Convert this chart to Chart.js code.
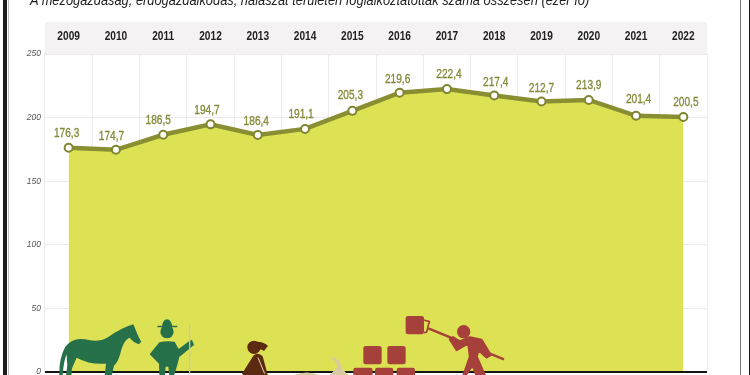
<!DOCTYPE html>
<html>
<head>
<meta charset="utf-8">
<script src="https://cdn.jsdelivr.net/npm/chart.js@4"></script>
<style>
  html, body { margin: 0; padding: 0; background: #fff; overflow: hidden; }
  #wrap { position: relative; width: 750px; height: 375px; overflow: hidden; }
  #myChart { position: absolute; left: 0; top: 0; }
  #title { position: absolute; left: 30px; top: -8px; white-space: nowrap; color: #222;
           font: italic 14.6px "Liberation Sans", Arial, sans-serif;
           transform: scaleX(.88); transform-origin: 0 0; }
  .frame { position: absolute; top: 0; height: 375px; }
  #icons { position: absolute; left: 0; top: 0; }
</style>
</head>
<body>
<div id="wrap">
  <canvas id="myChart" width="750" height="375"></canvas>
  <div id="title">A mezőgazdaság, erdőgazdálkodás, halászat területén foglalkoztatottak száma összesen (ezer fő)</div>
  <div class="frame" style="left:3px;width:4px;background:#1c1c1c"></div>
  <div class="frame" style="left:8px;width:1px;background:#bbb"></div>
  <div class="frame" style="left:740px;width:1px;background:#777"></div>
  <div class="frame" style="left:749px;width:1px;background:#1c1c1c"></div>
  <svg id="icons" width="750" height="375">
    <!-- horse + farmer, traced in 3x crop coords -->
    <g transform="translate(40 315) scale(.3333)" fill="#26714a">
      <path d="M58 186 Q56 130 76 95 Q100 62 150 76 Q185 80 205 66 Q245 38 280 28 L286 42 Q296 68 304 80 L296 88 Q280 82 268 68 Q252 76 244 104 Q236 140 222 152 L215 182 L194 182 L198 146 Q150 150 110 128 Q100 150 96 160 L94 182 L78 182 L82 150 Q80 130 80 118 Q70 140 68 186 Z"/>
      <rect x="352" y="32" width="60" height="5" rx="2"/>
      <path d="M366 36 Q368 14 381 13 Q394 14 397 36 Z"/>
      <circle cx="381" cy="50" r="20"/>
      <path d="M358 82 Q380 76 404 80 L416 102 L445 80 L456 74 L462 90 L418 126 L412 150 L402 182 L388 182 L385 155 L377 155 L375 182 L358 182 L357 146 L329 118 Z"/>
      <rect x="447" y="30" width="4" height="148" fill="#c8cc9a"/>
    </g>
    <!-- woman + sack -->
    <g transform="translate(230 315) scale(.3333)">
      <circle cx="72" cy="97" r="20" fill="#5c2a10"/>
      <path d="M82 80 Q100 80 114 92 L102 108 Q92 100 82 104 Z" fill="#5c2a10"/>
      <path d="M36 176 L70 122 Q85 110 98 124 L114 182 L42 182 Z" fill="#5c2a10"/>
      <path d="M84 128 L104 176" stroke="#e8d8c0" stroke-width="3" fill="none"/>
      <path d="M295 125 Q330 125 335 160 L355 180 L300 180 L322 155 Q318 135 295 125 Z" fill="#d9caa2"/>
      <path d="M192 180 Q230 165 268 180 Z" fill="#d9caa2"/>
    </g>
    <!-- bricks + worker -->
    <g transform="translate(300 300) scale(.3333)" fill="#a5403a">
      <rect x="317" y="48" width="55" height="55" rx="7"/>
      <rect x="190" y="138" width="55" height="55" rx="7"/>
      <rect x="262" y="138" width="55" height="55" rx="7"/>
      <rect x="160" y="203" width="58" height="40" rx="7"/>
      <rect x="225" y="203" width="55" height="40" rx="7"/>
      <rect x="290" y="203" width="55" height="40" rx="7"/>
      <path d="M372 60 L388 65 L380 96 L372 98" fill="none" stroke="#a5403a" stroke-width="5"/>
      <path d="M385 85 L612 178" stroke="#a5403a" stroke-width="7"/>
      <circle cx="491" cy="95" r="20"/>
      <path d="M510 112 L545 120 L572 165 L560 172 L535 150 L530 170 L555 228 L530 228 L518 195 L495 228 L490 228 L510 170 L505 130 L470 150 L450 118 L460 112 L478 125 Z" stroke="#a5403a" stroke-width="7" stroke-linejoin="round"/>
    </g>
  </svg>
</div>
<script>
const years = ['2009', '2010', '2011', '2012', '2013', '2014', '2015', '2016', '2017', '2018', '2019', '2020', '2021', '2022'];
const workers = [176.3, 174.7, 186.5, 194.7, 186.4, 191.1, 205.3, 219.6, 222.4, 217.4, 212.7, 213.9, 201.4, 200.5];
const yTicks = [0, 50, 100, 150, 200, 250];

// hand placed label nudges, [dx, dy] from each point
const labelNudge = [[-2, -14], [-4.5, -14], [-5, -14], [-3.5, -14], [-1.5, -14], [-4, -14.5], [-2, -15.5],
  [-2, -13], [2, -14.5], [1.5, -13], [0, -13.5], [0, -14.5], [2.5, -16.5], [2.5, -14.5]];

// no narrow face installed, so squeeze the text horizontally
function squeezed(c, txt, x, y, sx, heavy) {
    c.save();
    c.translate(x, y);
    c.scale(sx, 1);
    c.fillText(txt, 0, 0);
    if (heavy) {
        c.strokeStyle = c.fillStyle;
        c.lineWidth = heavy;
        c.strokeText(txt, 0, 0);
    }
    c.restore();
}

const decor = {
    id: 'decor',
    beforeDraw(chart) {
        const c = chart.ctx, a = chart.chartArea;
        c.save();
        c.fillStyle = '#f4f2f2';
        c.fillRect(a.left, 22, a.right - a.left, a.top - 22);
        c.restore();
    },
    afterDatasetsDraw(chart) {
        const c = chart.ctx, a = chart.chartArea;
        const y0 = chart.scales.y.getPixelForValue(0);
        c.save();
        // baseline
        c.strokeStyle = '#141414';
        c.lineWidth = 2;
        c.beginPath();
        c.moveTo(a.left, y0);
        c.lineTo(a.right, y0);
        c.stroke();
        c.textAlign = 'center';
        c.textBaseline = 'middle';
        // year header
        c.font = 'bold 13px "Liberation Sans", sans-serif';
        c.fillStyle = '#222';
        years.forEach((yr, i) => {
            squeezed(c, yr, chart.scales.x.getPixelForValue(i), 36.5, 0.78);
        });
        // value labels, decimal comma
        c.font = '13.5px "Liberation Sans", sans-serif';
        c.fillStyle = '#858938';
        chart.getDatasetMeta(0).data.forEach((pt, i) => {
            const txt = workers[i].toFixed(1).replace('.', ',');
            squeezed(c, txt, pt.x + labelNudge[i][0], pt.y + labelNudge[i][1], 0.75, 0.35);
        });
        c.restore();
    }
};

const ctx = document.getElementById('myChart').getContext('2d');
const chart = new Chart(ctx, {
    type: 'line',
    data: {
        labels: years,
        datasets: [{
            data: workers,
            borderColor: '#8a8e32',
            borderWidth: 4.5,
            backgroundColor: 'rgba(218,224,72,0.93)',
            fill: 'origin',
            tension: 0,
            pointRadius: 4,
            pointBorderWidth: 2,
            pointBackgroundColor: '#fff',
            pointBorderColor: '#7f8530'
        }]
    },
    options: {
        responsive: false,
        animation: false,
        layout: { autoPadding: false, padding: { left: 0, top: 0, right: 43, bottom: 3 } },
        plugins: { legend: { display: false }, title: { display: false }, tooltip: { enabled: false } },
        scales: {
            x: {
                position: 'top',
                offset: true,
                afterFit(s) { s.height = 54; },
                border: { display: false },
                grid: { offset: true, color: '#ececec', drawTicks: false },
                ticks: { display: false }
            },
            y: {
                min: 0,
                max: 250,
                // tick label half height was eating 6px off the bottom
                afterFit(s) { s.width = 45; s.paddingBottom = 0; s.paddingTop = 0; },
                afterBuildTicks(s) { s.ticks = yTicks.map(v => ({ value: v })); },
                border: { display: false },
                grid: { color: '#ececec', drawTicks: false },
                ticks: {
                    padding: 4, color: '#555',
                    font: { family: '"Liberation Sans", sans-serif', size: 8.5, style: 'italic' }
                }
            }
        }
    },
    plugins: [decor]
});
</script>
</body>
</html>
